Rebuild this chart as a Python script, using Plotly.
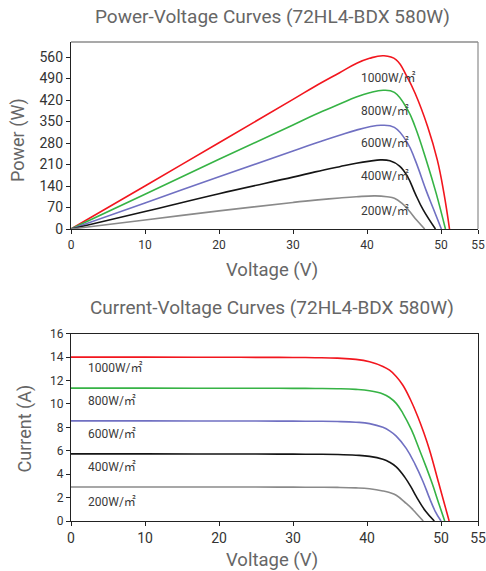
import plotly.graph_objects as go

# ---------------- data ----------------
labels = ["1000W/㎡", "800W/㎡", "600W/㎡", "400W/㎡", "200W/㎡"]
colors = ["#f2161e", "#36b345", "#7070c2", "#151515", "#8a8a8a"]

# Power-Voltage curves
pv_v_1000 = [0, 10, 20, 30, 33, 36.3, 38.55, 40.35, 42.3, 43.95, 45.4, 46.5, 48.2, 49.5, 50.4, 51.15]
pv_p_1000 = [0, 140, 281, 422, 465, 509, 539, 556, 564, 551, 496, 442, 333, 225, 116, 0]
pv_v_800 = [0, 10, 20, 30, 33, 36.3, 38.55, 40.35, 42.2, 43.7, 45.5, 46.5, 48.0, 49.35, 50.6]
pv_p_800 = [0, 113, 227, 339, 373, 407, 430, 444, 452, 445, 388, 333, 225, 116, 0]
pv_v_600 = [0, 10, 20, 30, 33, 36.3, 38.55, 40.35, 41.9, 43.7, 45.5, 46.5, 48.0, 48.9, 50.05]
pv_p_600 = [0, 85, 170, 254, 279, 305, 322, 333, 338, 331, 279, 225, 125, 70, 0]
pv_v_400 = [0, 10, 20, 30, 33, 36.3, 38.55, 40.4, 41.8, 43.1, 44.4, 45.5, 46.5, 47.6, 49.25]
pv_p_400 = [0, 57, 115, 169, 186, 203, 214, 221, 225, 222, 205, 170, 116, 62, 0]
pv_v_200 = [0, 10, 20, 30, 33, 36.3, 38.55, 41.1, 42.7, 43.7, 44.7, 45.6, 46.7, 47.8]
pv_p_200 = [0, 29.5, 59, 86.5, 94, 101, 105, 108, 105, 100, 84, 62, 29, 0]

# Current-Voltage curves
iv_v_1000 = [0, 10, 20, 25, 30, 33, 36, 38.5, 40.35, 42.15, 43.05, 43.95, 44.85, 45.85, 46.87, 47.7, 48.45, 49.7, 50.45, 51.1]
iv_i_1000 = [14.0, 14.0, 13.99, 13.98, 13.97, 13.95, 13.91, 13.81, 13.6, 13.2, 12.88, 12.35, 11.6, 10.4, 8.91, 7.5, 6.07, 3.22, 1.5, 0]
iv_v_800 = [0, 10, 20, 25, 30, 33, 36, 38.5, 40.35, 42.15, 43.05, 43.95, 44.85, 46.0, 47.1, 48.0, 48.8, 49.7, 50.5]
iv_i_800 = [11.35, 11.35, 11.34, 11.34, 11.33, 11.32, 11.3, 11.24, 11.12, 10.85, 10.55, 10.05, 9.2, 7.8, 6.07, 4.6, 3.22, 1.5, 0]
iv_v_600 = [0, 10, 20, 25, 30, 33, 36, 38.5, 40.35, 42.15, 43.05, 43.95, 45.3, 46.5, 47.55, 48.45, 49.2, 50.0]
iv_i_600 = [8.55, 8.55, 8.54, 8.54, 8.53, 8.52, 8.5, 8.44, 8.32, 8.0, 7.7, 7.25, 6.2, 4.84, 3.4, 1.95, 0.85, 0]
iv_v_400 = [0, 10, 20, 25, 30, 33, 36, 38.5, 40.35, 42.15, 43.05, 43.95, 45.1, 46.0, 46.65, 47.9, 49.1]
iv_i_400 = [5.73, 5.73, 5.72, 5.72, 5.71, 5.7, 5.68, 5.62, 5.52, 5.27, 5.02, 4.62, 3.75, 2.85, 2.1, 0.85, 0]
iv_v_200 = [0, 10, 20, 25, 30, 33, 36, 38.5, 40.35, 42.15, 43.05, 43.95, 45.3, 46.0, 46.7, 47.6]
iv_i_200 = [2.9, 2.9, 2.9, 2.9, 2.89, 2.88, 2.87, 2.83, 2.75, 2.57, 2.43, 2.2, 1.5, 1.1, 0.62, 0]

pv_v = [pv_v_1000, pv_v_800, pv_v_600, pv_v_400, pv_v_200]
pv_p = [pv_p_1000, pv_p_800, pv_p_600, pv_p_400, pv_p_200]
iv_v = [iv_v_1000, iv_v_800, iv_v_600, iv_v_400, iv_v_200]
iv_i = [iv_i_1000, iv_i_800, iv_i_600, iv_i_400, iv_i_200]

pv_label_x = 38.9
pv_label_y = [491, 385, 279, 173, 60]
iv_label_x = 2.0
iv_label_y = [13.1, 10.25, 7.4, 4.64, 1.65]

x_ticks = [0, 10, 20, 30, 40, 50, 55]
p_ticks = [0, 70, 140, 210, 280, 350, 420, 490, 560]
i_ticks = [0, 2, 4, 6, 8, 10, 12, 14, 16]

top_title = "Power-Voltage Curves (72HL4-BDX 580W)"
bot_title = "Current-Voltage Curves (72HL4-BDX 580W)"

# ---------------- figure ----------------
FONT = "Roboto, 'Noto Sans CJK SC', sans-serif"
W, H = 486, 571
L, R = 71, 8

def px(x):
    return (x - L) / (W - L - R)

def py(y):
    return 1 - y / H

fig = go.Figure()
for k in range(5):
    fig.add_trace(go.Scatter(x=pv_v[k], y=pv_p[k], mode="lines",
                             line=dict(color=colors[k], width=1.6, shape="spline", smoothing=1.2),
                             xaxis="x", yaxis="y", showlegend=False, hoverinfo="skip"))
    fig.add_trace(go.Scatter(x=iv_v[k], y=iv_i[k], mode="lines",
                             line=dict(color=colors[k], width=1.6, shape="spline", smoothing=1.2),
                             xaxis="x2", yaxis="y2", showlegend=False, hoverinfo="skip"))

ann = []
for k in range(5):
    ann.append(dict(x=pv_label_x, y=pv_label_y[k], xref="x", yref="y", text=labels[k],
                    showarrow=False, xanchor="left", yanchor="middle",
                    font=dict(family=FONT, size=12, color="#3a3a3a")))
    ann.append(dict(x=iv_label_x, y=iv_label_y[k], xref="x2", yref="y2", text=labels[k],
                    showarrow=False, xanchor="left", yanchor="middle",
                    font=dict(family=FONT, size=12, color="#3a3a3a")))

def txt(x, y, t, size, angle=0):
    return dict(x=px(x), y=py(y), xref="paper", yref="paper", text=t, showarrow=False,
                xanchor="center", yanchor="middle", textangle=angle,
                font=dict(family=FONT, size=size, color="#666666"))

ann += [
    txt(272, 17, top_title, 19),
    txt(272, 307, bot_title, 19),
    txt(272, 270, "Voltage (V)", 18.5),
    txt(272, 560, "Voltage (V)", 18.5),
    txt(18, 140, "Power (W)", 18, -90),
    txt(24.5, 429, "Current (A)", 18, -90),
]

axis_common = dict(showgrid=False, zeroline=False, showline=True, linecolor="#222222",
                   linewidth=1.2, ticks="outside", ticklen=4, tickcolor="#222222",
                   tickwidth=1)

fig.update_layout(
    width=W, height=H, autosize=False,
    margin=dict(l=L, r=R, t=0, b=0, pad=0, autoexpand=False),
    paper_bgcolor="white", plot_bgcolor="white",
    xaxis=dict(domain=[0, 1], range=[0, 55], tickvals=x_ticks, anchor="y",
               tickfont=dict(family=FONT, size=12, color="#333333"), **axis_common),
    yaxis=dict(domain=[py(229), py(42)], range=[0, 609], tickvals=p_ticks, anchor="x",
               tickfont=dict(family=FONT, size=14, color="#333333"), **axis_common),
    xaxis2=dict(domain=[0, 1], range=[0, 55], tickvals=x_ticks, anchor="y2", mirror=True,
                tickfont=dict(family=FONT, size=14, color="#333333"), **axis_common),
    yaxis2=dict(domain=[py(521), py(333.7)], range=[0, 16], tickvals=i_ticks, anchor="x2",
                mirror=True,
                tickfont=dict(family=FONT, size=12, color="#333333"), **axis_common),
    annotations=ann,
    shapes=[
        dict(type="line", xref="x domain", yref="y domain", x0=0, x1=1, y0=1, y1=1,
             line=dict(color="#8c8c8c", width=1.5)),
        dict(type="line", xref="x domain", yref="y domain", x0=1, x1=1, y0=0, y1=1,
             line=dict(color="#8c8c8c", width=1.2)),
    ],
)

fig.write_html("out.html", config={"displayModeBar": False},
               post_script="document.body.style.margin='0';document.body.style.overflow='hidden';")
